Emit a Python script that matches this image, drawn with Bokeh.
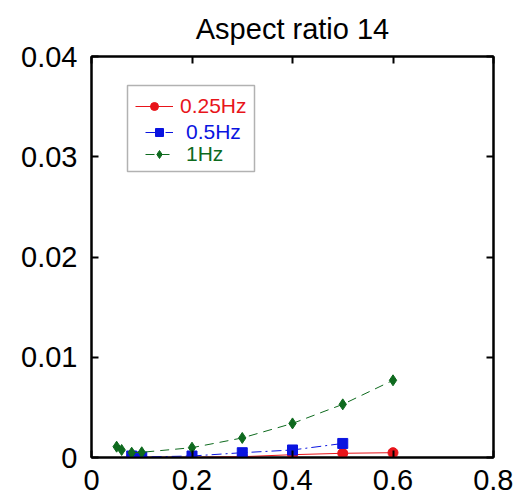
from bokeh.plotting import figure
from bokeh.models import LinearAxis, Legend, LegendItem, BoxAnnotation, Range1d, FixedTicker
from bokeh.embed import file_html
from bokeh.resources import INLINE

x_025 = [0.08, 0.1, 0.2, 0.3, 0.4, 0.5, 0.6]
y_025 = [0.00002, 0.00002, 0.00002, 0.00008, 0.00028, 0.00042, 0.00048]
x_05 = [0.08, 0.1, 0.2, 0.3, 0.4, 0.5]
y_05 = [0.00015, 0.00005, 0.00015, 0.00048, 0.00075, 0.0014]
x_1 = [0.05, 0.06, 0.08, 0.1, 0.2, 0.3, 0.4, 0.5, 0.6]
y_1 = [0.00108, 0.00075, 0.00048, 0.00052, 0.00098, 0.00195, 0.0034, 0.0053, 0.0077]
x_ticks = [0, 0.2, 0.4, 0.6, 0.8]
y_ticks = [0, 0.01, 0.02, 0.03, 0.04]
x_labels = {0: "0", 0.2: "0.2", 0.4: "0.4", 0.6: "0.6", 0.8: "0.8"}
y_labels = {0: "0", 0.01: "0.01", 0.02: "0.02", 0.03: "0.03", 0.04: "0.04"}
title_text = "Aspect ratio 14"

FONT = "Liberation Sans"

p = figure(width=513, height=497, output_backend="svg", toolbar_location=None,
           x_range=Range1d(0, 0.8), y_range=Range1d(0, 0.04),
           min_border_left=91, min_border_right=20, min_border_top=56, min_border_bottom=40,
           title=title_text)
p.title.align = "center"
p.title.text_font = FONT
p.title.text_font_size = "29px"
p.title.text_font_style = "normal"
p.title.text_color = "black"
p.title.offset = 10
p.title.standoff = 20
p.title.vertical_align = "top"
p.xgrid.visible = False
p.ygrid.visible = False
p.outline_line_color = "black"
p.outline_line_width = 2
p.background_fill_color = "white"

def style_axis(ax):
    ax.major_tick_in = 7
    ax.major_tick_out = 0
    ax.minor_tick_line_color = None
    ax.axis_line_width = 2
    ax.major_tick_line_width = 2
    ax.major_label_text_font = FONT
    ax.major_label_text_font_size = "29px"
    ax.major_label_text_color = "black"

p.xaxis.ticker = FixedTicker(ticks=x_ticks)
p.xaxis.major_label_overrides = x_labels
p.yaxis.ticker = FixedTicker(ticks=y_ticks)
p.yaxis.major_label_overrides = y_labels
style_axis(p.xaxis[0])
style_axis(p.yaxis[0])
p.xaxis.major_label_standoff = 12
p.yaxis.major_label_standoff = 14

top = LinearAxis(ticker=FixedTicker(ticks=x_ticks), major_label_overrides={t: "" for t in x_ticks})
style_axis(top)
top.major_label_standoff = 0
p.add_layout(top, "above")
right = LinearAxis(ticker=FixedTicker(ticks=y_ticks), major_label_overrides={t: "" for t in y_ticks})
style_axis(right)
right.major_label_standoff = 0
p.add_layout(right, "right")

r1l = p.line(x_025, y_025, line_color="#e8141a", line_width=1)
r1m = p.scatter(x_025, y_025, marker="circle", size=10, fill_color="#e8141a", line_color="#e8141a")
r2l = p.line(x_05, y_05, line_color="#0a14e0", line_width=1, line_dash="10 4 2 4")
r2m = p.scatter(x_05, y_05, marker="square", size=10, fill_color="#0a14e0", line_color="#0a14e0")
r3l = p.line(x_1, y_1, line_color="#0e6a1e", line_width=1, line_dash="9 6")
r3m = p.scatter(x_1, y_1, marker="diamond", size=11, fill_color="#0e6a1e", line_color="#0e6a1e")

def mk_leg(label, rends, color, loc, gw, standoff):
    lg = Legend(items=[LegendItem(label=label, renderers=rends)], location=loc,
                border_line_alpha=0, background_fill_alpha=0, padding=0, margin=0,
                glyph_width=gw, glyph_height=20, label_height=20, label_standoff=standoff,
                label_text_color=color, label_text_font=FONT, label_text_font_size="21px")
    p.add_layout(lg, "center")

mk_leg("0.25Hz", [r1l, r1m], "#e8141a", (44, 339), 38, 7)
mk_leg("0.5Hz", [r2l, r2m], "#0a14e0", (54, 313), 28, 13)
mk_leg("1Hz", [r3l, r3m], "#0e6a1e", (54, 291), 28, 13)

box = BoxAnnotation(left=36, right=163, bottom=286, top=372,
                    left_units="screen", right_units="screen", bottom_units="screen", top_units="screen",
                    fill_alpha=0, line_color="black", line_width=1.5)
p.add_layout(box)

open("out.html", "w").write(file_html(p, INLINE))
